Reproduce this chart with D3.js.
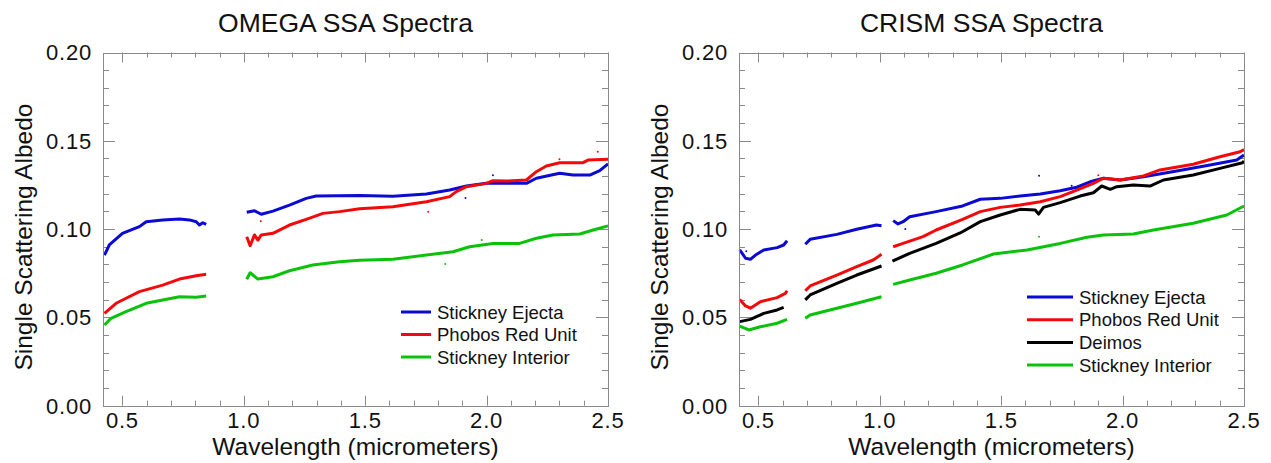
<!DOCTYPE html>
<html>
<head>
<meta charset="utf-8">
<script src="https://cdn.jsdelivr.net/npm/d3@7"></script>
<style>
  html, body { margin: 0; padding: 0; background: #fff; }
  svg { display: block; font-family: "Liberation Sans", Arial, sans-serif; }
</style>
</head>
<body>
<div id="chart"></div>
<script>
// wavelength (micrometers), single scattering albedo ; null = gap in the spectrum
const omegaEjecta = [
  [0.426, 0.0853], [0.446, 0.091], [0.5, 0.0976], [0.57, 0.1014], [0.598, 0.1042],
  [0.666, 0.1052], [0.735, 0.1057], [0.776, 0.1052], [0.804, 0.1042], [0.817, 0.1023],
  [0.831, 0.1036], [0.845, 0.1027],
  null,
  [1.012, 0.1095], [1.044, 0.1104], [1.072, 0.1084], [1.12, 0.1102], [1.188, 0.1136],
  [1.257, 0.1174], [1.298, 0.1187], [1.477, 0.119], [1.614, 0.1186], [1.752, 0.1199],
  [1.848, 0.1221], [1.917, 0.1244], [1.999, 0.1259], [2.082, 0.1259], [2.164, 0.1259],
  [2.205, 0.1288], [2.301, 0.1316], [2.356, 0.1306], [2.425, 0.1306], [2.466, 0.1331],
  [2.5, 0.1369]
];
const omegaRed = [
  [0.426, 0.0523], [0.474, 0.058], [0.57, 0.0646], [0.666, 0.0683], [0.735, 0.0717],
  [0.804, 0.0736], [0.845, 0.0744],
  null,
  [1.012, 0.0957], [1.026, 0.0906], [1.044, 0.0967], [1.058, 0.0938], [1.072, 0.0967],
  [1.12, 0.0976], [1.188, 0.1023], [1.257, 0.1055], [1.326, 0.1089], [1.394, 0.1099],
  [1.477, 0.1115], [1.614, 0.1127], [1.752, 0.1155], [1.848, 0.1184], [1.875, 0.1212],
  [1.917, 0.124], [1.999, 0.1259], [2.026, 0.1274], [2.082, 0.1272], [2.164, 0.1278],
  [2.205, 0.1325], [2.246, 0.1357], [2.301, 0.1376], [2.397, 0.1376], [2.418, 0.1391],
  [2.5, 0.1395]
];
const omegaInterior = [
  [0.426, 0.0457], [0.453, 0.0495], [0.515, 0.0532], [0.598, 0.058], [0.666, 0.0599],
  [0.735, 0.0617], [0.804, 0.0614], [0.845, 0.0621],
  null,
  [1.012, 0.0716], [1.026, 0.0753], [1.058, 0.0717], [1.12, 0.073], [1.188, 0.0764],
  [1.284, 0.0797], [1.394, 0.0815], [1.477, 0.0823], [1.614, 0.0829], [1.752, 0.0853],
  [1.862, 0.0872], [1.93, 0.09], [2.026, 0.0919], [2.136, 0.0919], [2.205, 0.0948],
  [2.273, 0.0967], [2.384, 0.0972], [2.439, 0.0995], [2.5, 0.1018]
];

const crismEjecta = [
  [0.423, 0.0882], [0.447, 0.0835], [0.467, 0.0829], [0.488, 0.0853], [0.522, 0.0882],
  [0.577, 0.0895], [0.604, 0.091], [0.618, 0.0934],
  null,
  [0.693, 0.0914], [0.713, 0.0942], [0.823, 0.097], [0.905, 0.0999], [0.986, 0.1023],
  [1.007, 0.1019],
  null,
  [1.055, 0.1048], [1.075, 0.1029], [1.096, 0.1042], [1.123, 0.107], [1.232, 0.1099],
  [1.341, 0.1131], [1.414, 0.1169], [1.496, 0.1174], [1.578, 0.1187], [1.661, 0.1199],
  [1.743, 0.1217], [1.811, 0.1237], [1.866, 0.1268], [1.921, 0.1288], [1.99, 0.1278],
  [2.086, 0.1297], [2.223, 0.1329], [2.36, 0.1363], [2.47, 0.1391], [2.5, 0.142]
];
const crismRed = [
  [0.423, 0.0602], [0.447, 0.0565], [0.467, 0.0552], [0.508, 0.0589], [0.577, 0.0612],
  [0.611, 0.0636], [0.618, 0.0651],
  null,
  [0.693, 0.0651], [0.713, 0.0678], [0.823, 0.074], [0.905, 0.0787], [0.973, 0.0825],
  [1.007, 0.0857],
  null,
  [1.055, 0.09], [1.096, 0.0919], [1.178, 0.0957], [1.232, 0.0995], [1.341, 0.1055],
  [1.414, 0.1099], [1.496, 0.1123], [1.578, 0.1136], [1.661, 0.1155], [1.743, 0.1184],
  [1.811, 0.1221], [1.88, 0.1259], [1.921, 0.1288], [1.99, 0.1278], [2.086, 0.1301],
  [2.154, 0.1335], [2.291, 0.1367], [2.401, 0.141], [2.484, 0.1438], [2.5, 0.145]
];
const crismDeimos = [
  [0.423, 0.0476], [0.467, 0.0489], [0.522, 0.0523], [0.577, 0.0542], [0.604, 0.0557],
  null,
  [0.693, 0.0599], [0.713, 0.0627], [0.823, 0.0693], [0.905, 0.074], [1.007, 0.0791],
  null,
  [1.052, 0.0819], [1.123, 0.0863], [1.232, 0.0919], [1.331, 0.0978], [1.414, 0.1042],
  [1.496, 0.108], [1.578, 0.1112], [1.64, 0.1108], [1.654, 0.1085], [1.674, 0.1123],
  [1.743, 0.115], [1.825, 0.1187], [1.88, 0.1206], [1.914, 0.1244], [1.949, 0.1225],
  [1.976, 0.124], [2.044, 0.125], [2.113, 0.1244], [2.168, 0.1278], [2.291, 0.1306],
  [2.401, 0.1344], [2.494, 0.1376], [2.5, 0.1385]
];
const crismInterior = [
  [0.423, 0.0451], [0.46, 0.0429], [0.508, 0.0447], [0.577, 0.0467], [0.618, 0.0489],
  null,
  [0.693, 0.0495], [0.713, 0.0514], [0.823, 0.0552], [0.905, 0.058], [1.007, 0.0617],
  null,
  [1.055, 0.0687], [1.123, 0.0712], [1.232, 0.075], [1.341, 0.0797], [1.468, 0.0859],
  [1.606, 0.0882], [1.743, 0.0919], [1.853, 0.0954], [1.921, 0.0967], [2.044, 0.0972],
  [2.127, 0.0995], [2.291, 0.1033], [2.429, 0.108], [2.5, 0.1131]
];

// stray noisy samples: [wavelength, albedo, series]
const omegaStray = [
  [1.913, 0.1176, "ejecta"], [2.026, 0.1305, "ejecta"], [1.79, 0.121, "ejecta"],
  [2.458, 0.1438, "red"], [1.76, 0.1098, "red"], [1.07, 0.1045, "red"], [2.3, 0.1395, "red"],
  [1.98, 0.0938, "interior"], [1.83, 0.0802, "interior"]
];
const crismStray = [
  [1.656, 0.1302, "ejecta"], [1.105, 0.1, "ejecta"], [1.79, 0.1245, "ejecta"],
  [1.656, 0.0957, "interior"], [1.9, 0.1305, "red"], [0.45, 0.0875, "ejecta"]
];

const seriesNames = ["Stickney Ejecta", "Phobos Red Unit", "Deimos", "Stickney Interior"];
const seriesColors = { ejecta: "#0a0ad2", red: "#f20a0a", deimos: "#000000", interior: "#0ac20a" };

const xDomain = [0.42, 2.5];
const yDomain = [0, 0.2];
const xMajor = [0.5, 1.0, 1.5, 2.0, 2.5];
const yMajor = [0, 0.05, 0.1, 0.15, 0.2];

const panels = [
  {
    title: "OMEGA SSA Spectra", left: 103, right: 608,
    series: [
      { key: "ejecta", name: seriesNames[0], data: omegaEjecta },
      { key: "red", name: seriesNames[1], data: omegaRed },
      { key: "interior", name: seriesNames[3], data: omegaInterior }
    ],
    stray: omegaStray,
    legend: { x: 401, y: 312, len: 30, step: 22.5 }
  },
  {
    title: "CRISM SSA Spectra", left: 739, right: 1244,
    series: [
      { key: "ejecta", name: seriesNames[0], data: crismEjecta },
      { key: "red", name: seriesNames[1], data: crismRed },
      { key: "deimos", name: seriesNames[2], data: crismDeimos },
      { key: "interior", name: seriesNames[3], data: crismInterior }
    ],
    stray: crismStray,
    legend: { x: 1027, y: 297, len: 46, step: 22.7 }
  }
];

const plotTop = 52.5, plotBottom = 405.7;
const frameColor = "#8a8a8a";
const textColor = "#111";

const svg = d3.select("#chart").append("svg")
  .attr("width", 1271)
  .attr("height", 463);

panels.forEach(p => {
  const x = d3.scaleLinear().domain(xDomain).range([p.left, p.right]);
  const y = d3.scaleLinear().domain(yDomain).range([plotBottom, plotTop]);
  const g = svg.append("g");

  // ticks (inward, all four sides)
  const xMinor = d3.range(5, 26).map(d => d / 10);
  const yMinor = d3.range(0, 21).map(d => d / 100);
  const isMajX = v => xMajor.some(m => Math.abs(m - v) < 1e-6);
  const isMajY = v => yMajor.some(m => Math.abs(m - v) < 1e-6);

  const tk = g.append("g").attr("stroke", frameColor).attr("stroke-width", 1);
  xMinor.forEach(v => {
    const len = isMajX(v) ? 10 : 5;
    const xx = Math.round(x(v)) + 0.5;
    tk.append("line").attr("x1", xx).attr("x2", xx).attr("y1", plotBottom).attr("y2", plotBottom - len);
    tk.append("line").attr("x1", xx).attr("x2", xx).attr("y1", plotTop).attr("y2", plotTop + len);
  });
  yMinor.forEach(v => {
    const len = isMajY(v) ? 12 : 6;
    const yy = Math.round(y(v)) + 0.5;
    tk.append("line").attr("x1", p.left).attr("x2", p.left + len).attr("y1", yy).attr("y2", yy);
    tk.append("line").attr("x1", p.right).attr("x2", p.right - len).attr("y1", yy).attr("y2", yy);
  });

  // data
  const line = d3.line()
    .defined(d => d !== null)
    .x(d => x(d[0]))
    .y(d => y(d[1]));

  p.series.forEach(s => {
    g.append("path")
      .datum(s.data)
      .attr("fill", "none")
      .attr("stroke", seriesColors[s.key])
      .attr("stroke-width", 3)
      .attr("stroke-linejoin", "round")
      .attr("d", line);
  });

  g.selectAll("circle.stray")
    .data(p.stray)
    .join("circle")
    .attr("class", "stray")
    .attr("cx", d => x(d[0]))
    .attr("cy", d => y(d[1]))
    .attr("r", 1)
    .attr("fill", d => seriesColors[d[2]]);

  // frame
  g.append("rect")
    .attr("x", p.left + 0.5).attr("y", Math.round(plotTop) + 0.5)
    .attr("width", p.right - p.left).attr("height", Math.round(plotBottom) - Math.round(plotTop))
    .attr("fill", "none").attr("stroke", frameColor);

  // tick labels
  xMajor.forEach(v => {
    g.append("text")
      .attr("x", x(v)).attr("y", 428)
      .attr("text-anchor", "middle")
      .attr("font-size", 22).attr("letter-spacing", 0.8)
      .attr("fill", textColor)
      .text(d3.format(".1f")(v));
  });
  yMajor.forEach(v => {
    g.append("text")
      .attr("x", p.left - 11).attr("y", y(v)).attr("dy", "0.36em")
      .attr("text-anchor", "end")
      .attr("font-size", 22).attr("letter-spacing", 0.8)
      .attr("fill", textColor)
      .text(d3.format(".2f")(v));
  });

  // titles
  const cx = (p.left + p.right) / 2;
  g.append("text")
    .attr("x", cx - 10).attr("y", 32)
    .attr("text-anchor", "middle")
    .attr("font-size", 26.5)
    .attr("fill", textColor)
    .text(p.title);
  g.append("text")
    .attr("x", cx).attr("y", 455)
    .attr("text-anchor", "middle")
    .attr("font-size", 24.5)
    .attr("fill", textColor)
    .text("Wavelength (micrometers)");
  g.append("text")
    .attr("transform", `translate(${p.left - 80},${(plotTop + plotBottom) / 2 + 8}) rotate(-90)`)
    .attr("text-anchor", "middle")
    .attr("dy", "0.36em")
    .attr("font-size", 24.5)
    .attr("fill", textColor)
    .text("Single Scattering Albedo");

  // legend
  const lg = g.append("g");
  p.series.forEach((s, i) => {
    const ly = p.legend.y + i * p.legend.step;
    lg.append("line")
      .attr("x1", p.legend.x).attr("x2", p.legend.x + p.legend.len)
      .attr("y1", ly).attr("y2", ly)
      .attr("stroke", seriesColors[s.key]).attr("stroke-width", 3);
    lg.append("text")
      .attr("x", p.legend.x + p.legend.len + 6).attr("y", ly).attr("dy", "0.36em")
      .attr("font-size", 18.5)
      .attr("fill", textColor)
      .text(s.name);
  });
});
</script>
</body>
</html>
